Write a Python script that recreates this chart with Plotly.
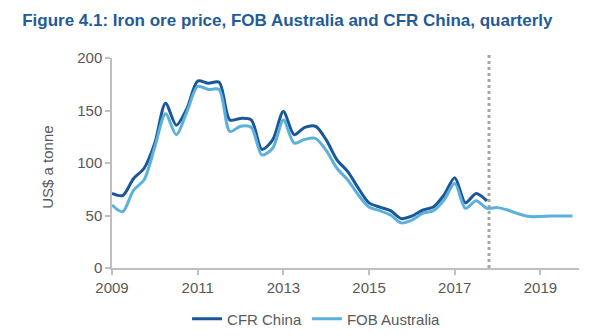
import plotly.graph_objects as go

# Quarterly time axis (decimal years)
quarters_cfr = [2009 + i * 0.25 for i in range(36)]   # 2009Q1 .. 2017Q4
quarters_fob = [2009 + i * 0.25 for i in range(44)]   # 2009Q1 .. 2019Q4

cfr_china = [71, 69, 85, 95, 119, 157, 136, 152,
             178, 176, 177, 141, 142.5, 141, 113, 122,
             149, 127, 134, 135, 122, 103, 92, 76,
             62, 58, 54.6, 47, 49.5, 55, 58, 69.5,
             86, 62, 71, 64]

fob_australia = [60, 53.6, 74, 84, 115.5, 147, 127, 149,
                 173, 170, 170, 130, 135, 134, 107.6, 114,
                 141, 119, 122.5, 123.5, 112, 95, 84, 69.5,
                 58, 54.6, 50.5, 43, 45.7, 52, 54.6, 64.8,
                 80.6, 56.8, 64, 56.8, 57.5, 55, 51.4, 49,
                 49, 49.5, 49.5, 49.5]

forecast_start = 2017.8
x_ticks = [2009, 2011, 2013, 2015, 2017, 2019]
y_ticks = [0, 50, 100, 150, 200]

dark = "#1b5697"
light = "#5bb0dc"
grey_text = "#595959"
axis_grey = "#bfbfbf"

fig = go.Figure()
fig.add_trace(go.Scatter(x=quarters_cfr, y=cfr_china, name="CFR China", mode="lines",
                         line=dict(color=dark, width=3, shape="spline", smoothing=0.8)))
fig.add_trace(go.Scatter(x=quarters_fob, y=fob_australia, name="FOB Australia", mode="lines",
                         line=dict(color=light, width=3, shape="spline", smoothing=0.8)))

fig.add_shape(type="line", xref="x", yref="paper", x0=forecast_start, x1=forecast_start,
              y0=0, y1=1.015, line=dict(color="#a6a6a6", width=3, dash="dot"), layer="below")

fig.update_layout(
    width=600, height=336,
    margin=dict(l=112, r=21, t=58, b=68, autoexpand=False),
    paper_bgcolor="white", plot_bgcolor="white",
    font=dict(family="Liberation Sans, Arial, sans-serif", size=15, color=grey_text),
    title=dict(text="<b>Figure 4.1: Iron ore price, FOB Australia and CFR China, quarterly</b>",
               x=0.037, xanchor="left", y=0.94, yanchor="middle",
               font=dict(family="Liberation Sans, Arial, sans-serif", size=17, color="#1f5c99")),
    showlegend=True,
    legend=dict(orientation="h", x=0.438, xanchor="center", y=-0.243, yanchor="middle",
                font=dict(size=15, color=grey_text), bgcolor="rgba(0,0,0,0)",
                itemwidth=30, tracegroupgap=0),
    xaxis=dict(range=[2009, 2019.9], tickmode="array", tickvals=x_ticks,
               ticktext=[str(t) for t in x_ticks], automargin=False,
               showline=True, linecolor=axis_grey, linewidth=1.5, showgrid=False, zeroline=False,
               ticks="outside", ticklen=5, tickcolor=axis_grey, tickwidth=1.5),
    yaxis=dict(range=[0, 200], tickmode="array", tickvals=y_ticks, automargin=False,
               showline=True, linecolor=axis_grey, linewidth=1.5, showgrid=False, zeroline=False,
               ticks="outside", ticklen=5, tickcolor=axis_grey, tickwidth=1.5),
)

fig.add_annotation(text="US$ a tonne", xref="paper", yref="paper",
                   x=-0.138, y=0.48, xanchor="center", yanchor="middle",
                   textangle=-90, showarrow=False, font=dict(size=15, color=grey_text))

fig.write_html("out.html")
